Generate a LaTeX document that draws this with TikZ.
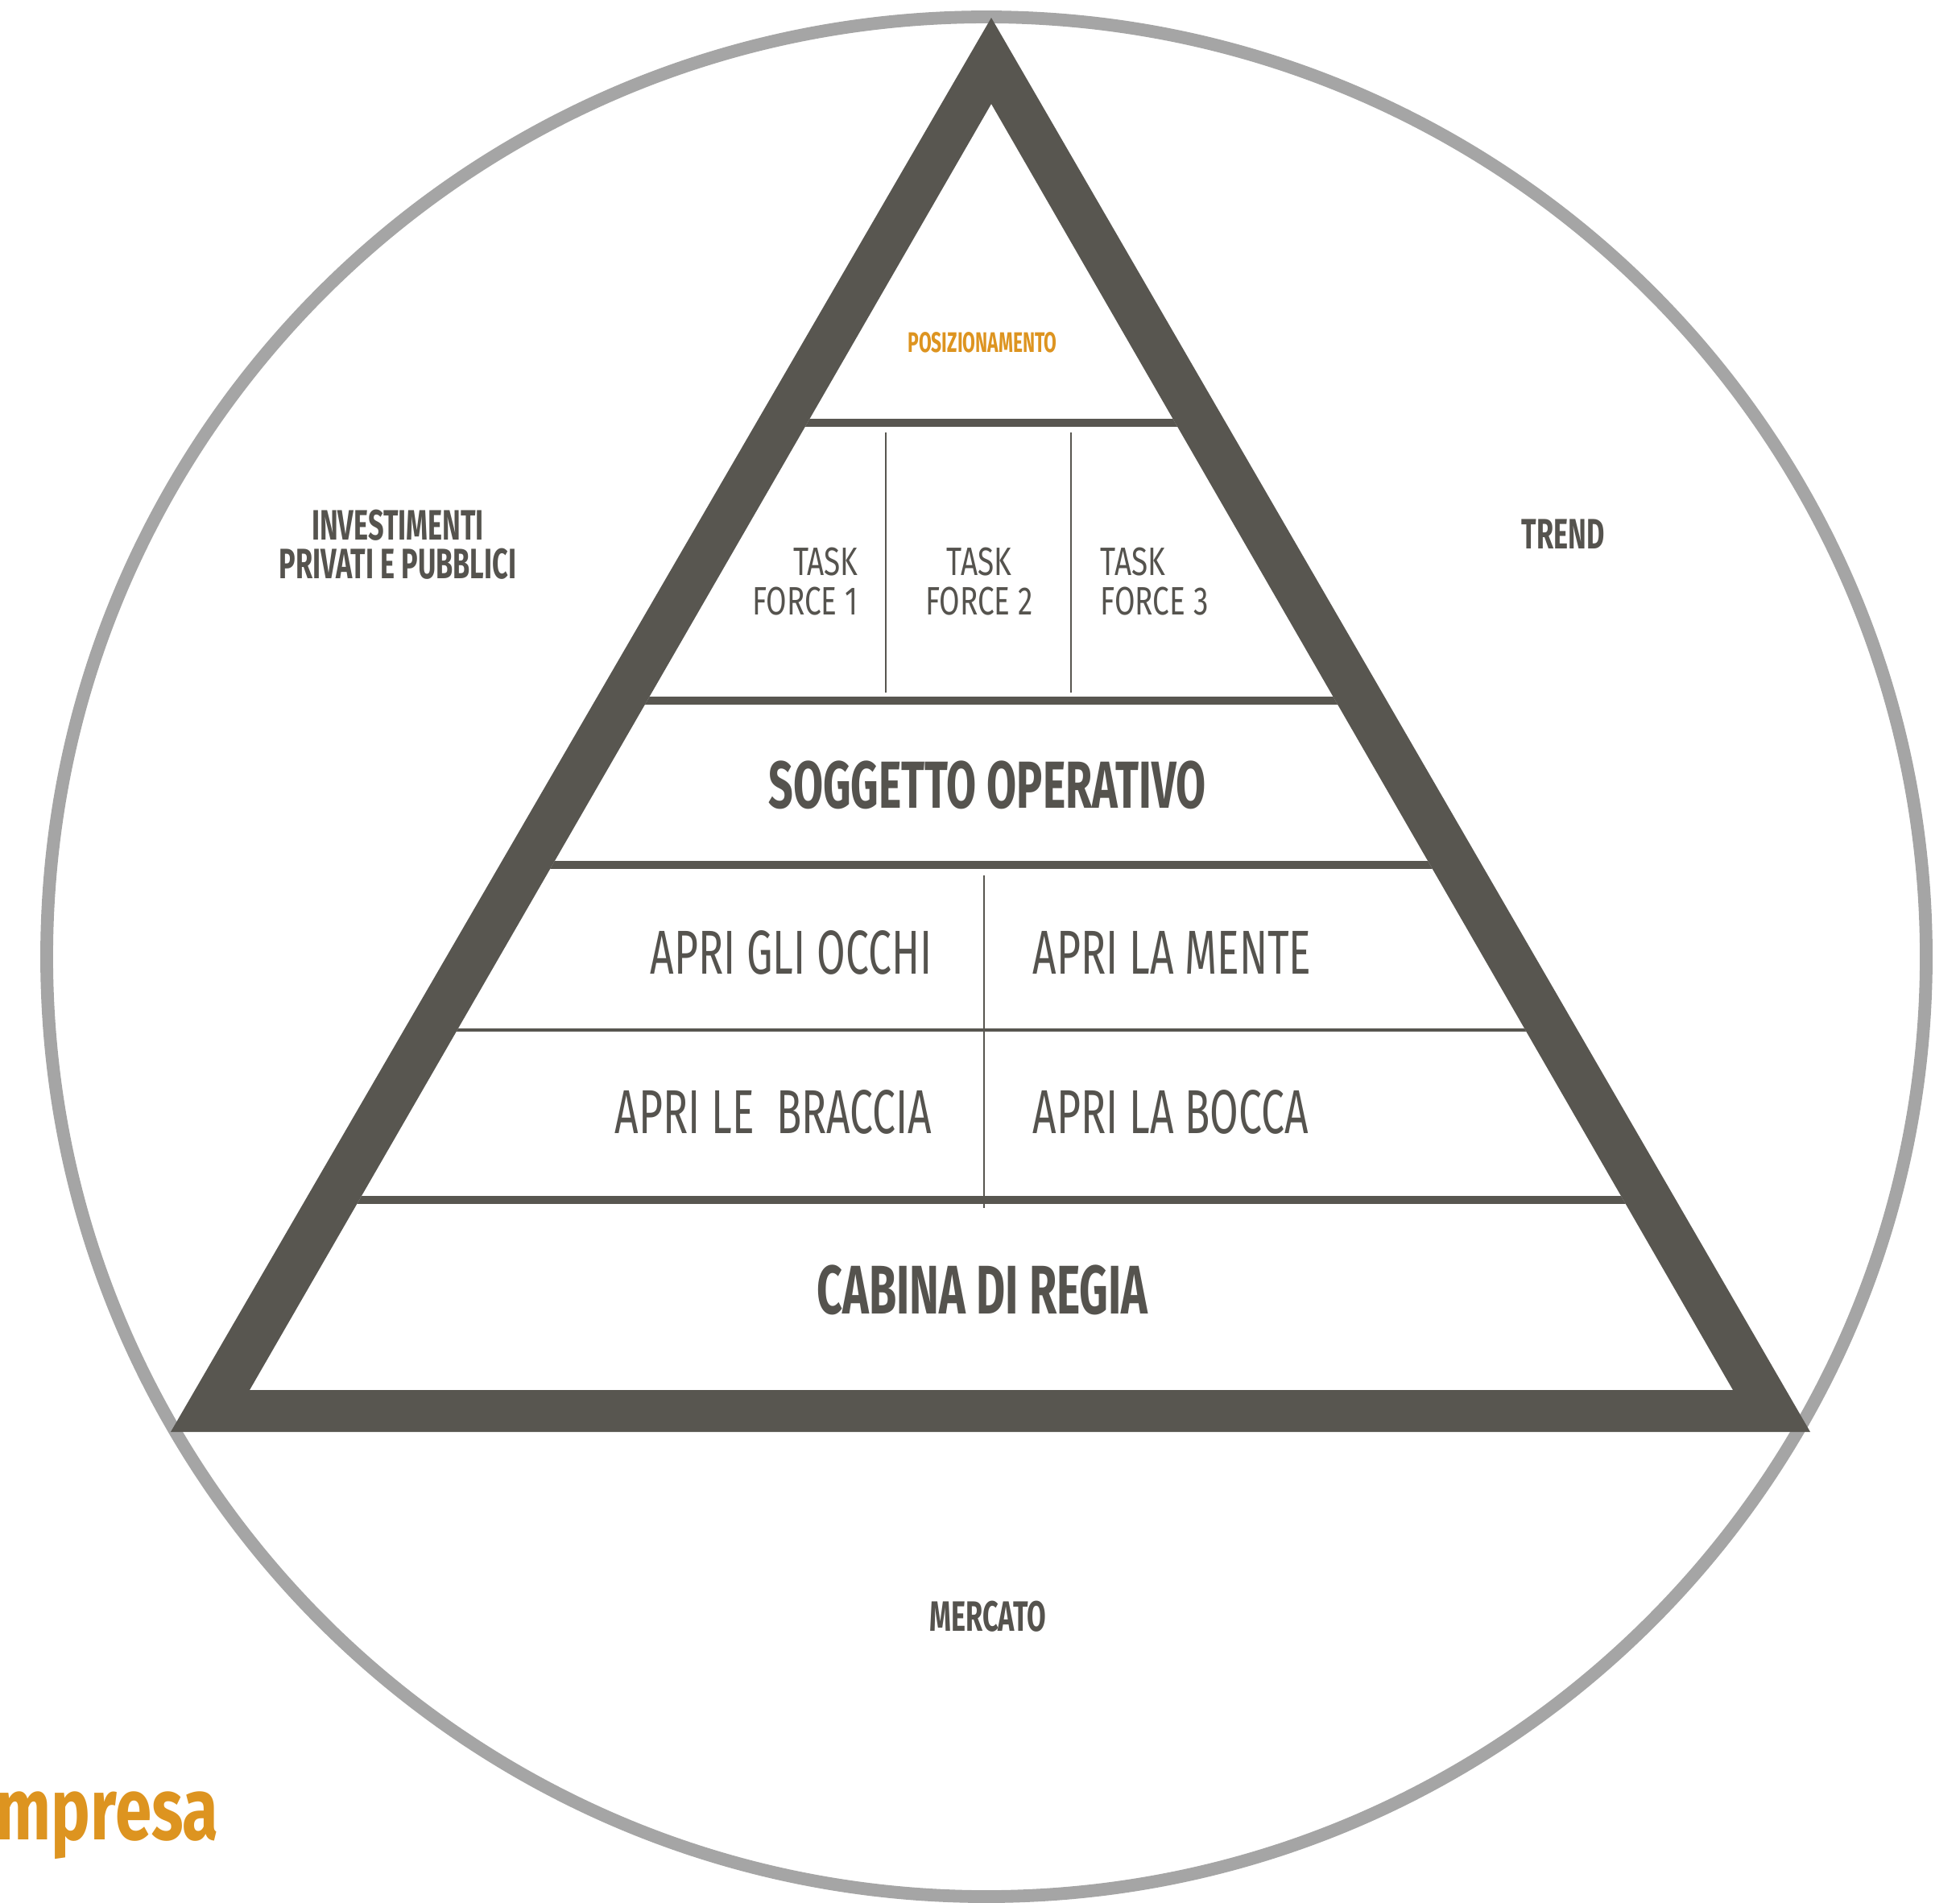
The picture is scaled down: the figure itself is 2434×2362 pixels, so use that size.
\documentclass[tikz,border=0pt]{standalone}
\usepackage{fontspec}
\setmainfont{Fira Sans}[FakeStretch=0.65]
\newfontfamily\aprifont{Fira Sans}[FakeStretch=0.67]
\newfontfamily\tffont{Fira Sans}[FakeStretch=0.75]
\newfontfamily\logofont{Fira Sans}[FakeStretch=0.75]
\usepackage{tikz}
\usetikzlibrary{positioning,calc}
\definecolor{frame}{RGB}{88,86,80}
\definecolor{ring}{RGB}{165,165,165}
\definecolor{ink}{RGB}{85,83,78}
\definecolor{ocra}{RGB}{221,148,32}

\begin{document}
\begin{tikzpicture}[x=0.01cm,y=-0.01cm]
\tikzstyle{T}=[inner sep=0pt,text=ink,font=\aprifont\fontsize{21.9}{26}\selectfont]
\tikzstyle{TB}=[inner sep=0pt,text=ink,font=\bfseries\fontsize{23.5}{28}\selectfont]
\tikzstyle{TF}=[inner sep=0pt,text=ink,font=\tffont\fontsize{14}{13.7}\selectfont]
\tikzstyle{E}=[inner sep=0pt,text=ink,align=center,font=\bfseries\fontsize{15}{13.7}\selectfont]
\tikzstyle{bar}=[draw=frame,line width=2.7pt]
\tikzstyle{rule}=[draw=frame,line width=0.75pt]
\useasboundingbox (0,0) rectangle (2434,2362);
\coordinate (oa) at (1231,22); \coordinate (ol) at (212,1778); \coordinate (or) at (2248,1778);
\coordinate (ia) at (1231,129); \coordinate (il) at (310,1726); \coordinate (ir) at (2152,1726);
\draw[ring,line width=4.5pt] (1225,1188) circle [radius=1167];
\begin{scope}
\clip (ia)--(il)--(ir)--cycle;
\foreach \y in {525,870,1074,1490} \draw[bar] (0,\y) -- (2434,\y);
\draw[rule,line width=0.9pt] (0,1279) -- (2434,1279);
\draw[rule] (1100,537) -- (1100,860); \draw[rule] (1330,537) -- (1330,860);
\draw[rule] (1222,1087) -- (1222,1500);
\end{scope}
\fill[frame,even odd rule] (oa)--(ol)--(or)--cycle (ia)--(il)--(ir)--cycle;
\node[TB,text=ocra,font=\bfseries\fontsize{10}{12}\selectfont] (pos) at (1220,425) {POSIZIONAMENTO};
\node[TF,align=right,anchor=east] (tf1) at (1066,722) {TASK\\FORCE 1};
\node[TF,align=center] (tf2) at (1216,722) {TASK\\FORCE 2};
\node[TF,align=left,anchor=west] (tf3) at (1366,722) {TASK\\FORCE 3};
\node[TB] (sogg) at (1226,975) {SOGGETTO OPERATIVO};
\node[T,anchor=east] (occhi) at (1158,1183) {APRI GLI OCCHI}; \node[T,anchor=west] (mente) at (1282,1183) {APRI LA MENTE};
\node[T,anchor=east] (braccia) at (1158,1381) {APRI LE~ BRACCIA}; \node[T,anchor=west] (bocca) at (1282,1381) {APRI LA BOCCA};
\node[TB,font=\bfseries\fontsize{24.3}{28}\selectfont] (cabina) at (1220,1602) {CABINA DI REGIA};
\node[E] (invest) at (494,676) {INVESTIMENTI\\PRIVATI E PUBBLICI};
\node[E] (trend) at (1941,663) {TREND};
\node[E] (mercato) at (1227,2007) {MERCATO};
\node[inner sep=0pt,anchor=base west,text=ocra,font=\logofont\bfseries\fontsize{31}{36}\selectfont] (logo) at (-6,2284) {mpresa};
\end{tikzpicture}
\end{document}
